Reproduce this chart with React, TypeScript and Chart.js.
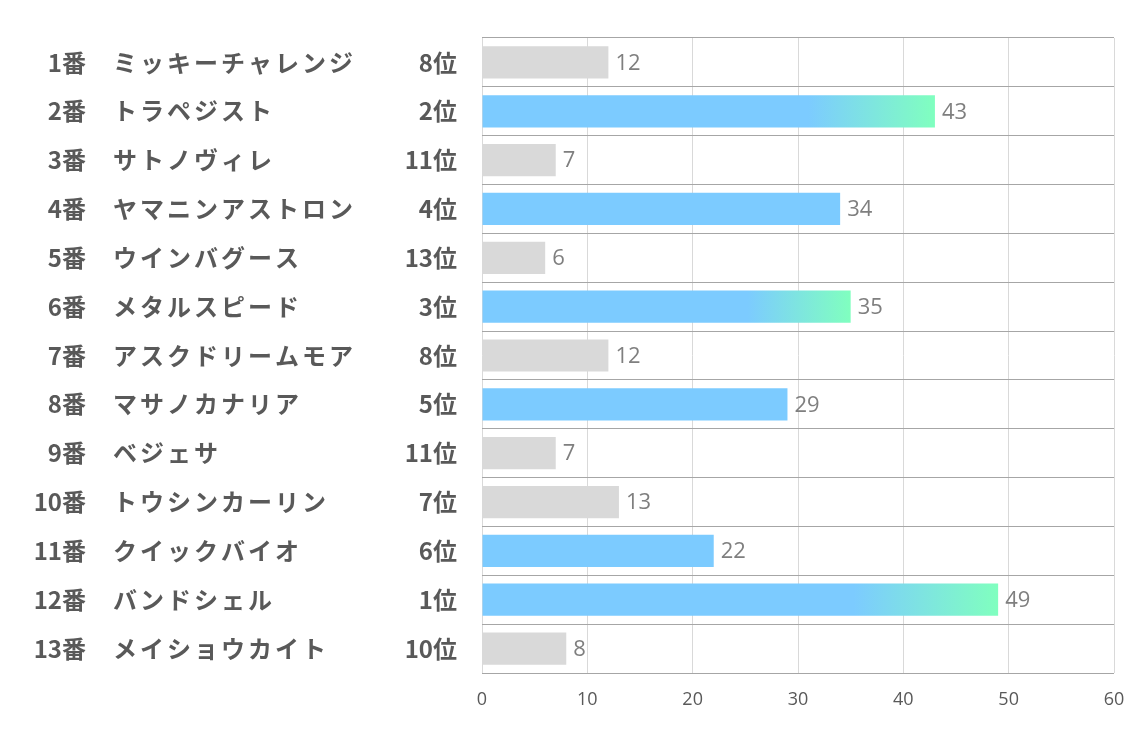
import React, { useEffect, useRef } from "react";
import { Chart, registerables } from "chart.js";

Chart.register(...registerables);

const numbers = ["1番", "2番", "3番", "4番", "5番", "6番", "7番", "8番", "9番", "10番", "11番", "12番", "13番"];
const names = [
  "ミッキーチャレンジ",
  "トラペジスト",
  "サトノヴィレ",
  "ヤマニンアストロン",
  "ウインバグース",
  "メタルスピード",
  "アスクドリームモア",
  "マサノカナリア",
  "ベジェサ",
  "トウシンカーリン",
  "クイックバイオ",
  "バンドシェル",
  "メイショウカイト",
];
const ranks = [8, 2, 11, 4, 13, 3, 8, 5, 11, 7, 6, 1, 10];
const values = [12, 43, 7, 34, 6, 35, 12, 29, 7, 13, 22, 49, 8];
const xTicks = [0, 10, 20, 30, 40, 50, 60];

const GREY = "#d9d9d9";
const BLUE = "#7ccbff";
const GREEN = "#80ffbf";
const TEXT = "#595959";
const JP = "'Noto Sans CJK JP', 'Noto Sans', sans-serif";

export default function App() {
  const ref = useRef<HTMLCanvasElement | null>(null);

  useEffect(() => {
    if (!ref.current) return;

    const labelPlugin = {
      id: "sideLabels",
      afterDatasetsDraw(chart: any) {
        const ctx = chart.ctx as CanvasRenderingContext2D;
        const yScale = chart.scales.y;
        const xScale = chart.scales.x;
        ctx.save();
        ctx.textBaseline = "middle";
        numbers.forEach((n, i) => {
          const y = yScale.getPixelForValue(i);
          ctx.fillStyle = TEXT;
          ctx.font = `bold 24px ${JP}`;
          (ctx as any).letterSpacing = "0px";
          ctx.textAlign = "right";
          ctx.fillText(n, 86, y);
          ctx.fillText(`${ranks[i]}位`, 457, y);
          ctx.textAlign = "left";
          (ctx as any).letterSpacing = "3px";
          ctx.fillText(names[i], 113, y);
          (ctx as any).letterSpacing = "0px";
          ctx.font = `22px 'Open Sans', sans-serif`;
          ctx.fillStyle = "#7f7f7f";
          ctx.fillText(String(values[i]), xScale.getPixelForValue(values[i]) + 7, y + 1);
        });
        // x tick labels
        ctx.font = `18px 'Open Sans', sans-serif`;
        ctx.fillStyle = TEXT;
        ctx.textAlign = "center";
        xTicks.forEach((v) => {
          ctx.fillText(String(v), xScale.getPixelForValue(v), chart.chartArea.bottom + 27);
        });
        ctx.restore();
      },
    };

    const bg = (c: any) => {
      const i = c.dataIndex;
      const r = ranks[i];
      if (r > 6) return GREY;
      if (r > 3) return BLUE;
      const chart = c.chart;
      const xs = chart.scales?.x;
      if (!chart.chartArea || !xs) return BLUE;
      const x0 = xs.getPixelForValue(0);
      const x1 = xs.getPixelForValue(values[i]);
      const g = chart.ctx.createLinearGradient(x0, 0, x1, 0);
      g.addColorStop(0, BLUE);
      g.addColorStop(0.72, BLUE);
      g.addColorStop(1, GREEN);
      return g;
    };

    const chart = new Chart(ref.current, {
      type: "bar",
      data: {
        labels: names,
        datasets: [
          {
            data: values,
            backgroundColor: bg,
            borderWidth: 0,
            barPercentage: 0.66,
            categoryPercentage: 1,
          },
        ],
      },
      options: {
        indexAxis: "y",
        animation: false,
        responsive: false,
        maintainAspectRatio: false,
        layout: { padding: { left: 482, right: 20, top: 38, bottom: 64 } },
        plugins: { legend: { display: false }, tooltip: { enabled: false } },
        scales: {
          x: {
            min: 0,
            max: 60,
            afterBuildTicks: (axis: any) => {
              axis.ticks = xTicks.map((v) => ({ value: v }));
            },
            grid: { color: "#d9d9d9", drawTicks: false, lineWidth: 1 },
            border: { display: false },
            ticks: { display: false },
          },
          y: {
            offset: true,
            grid: { offset: true, color: "#a6a6a6", drawTicks: false, lineWidth: 1 },
            border: { display: false },
            ticks: { display: false },
          },
        },
      },
      plugins: [labelPlugin],
    });
    return () => chart.destroy();
  }, []);

  return (
    <div style={{ position: "fixed", left: 0, top: 0, width: 1134, height: 737, background: "#fff" }}>
      <canvas ref={ref} width={1134} height={737} style={{ width: 1134, height: 737 }} />
    </div>
  );
}
